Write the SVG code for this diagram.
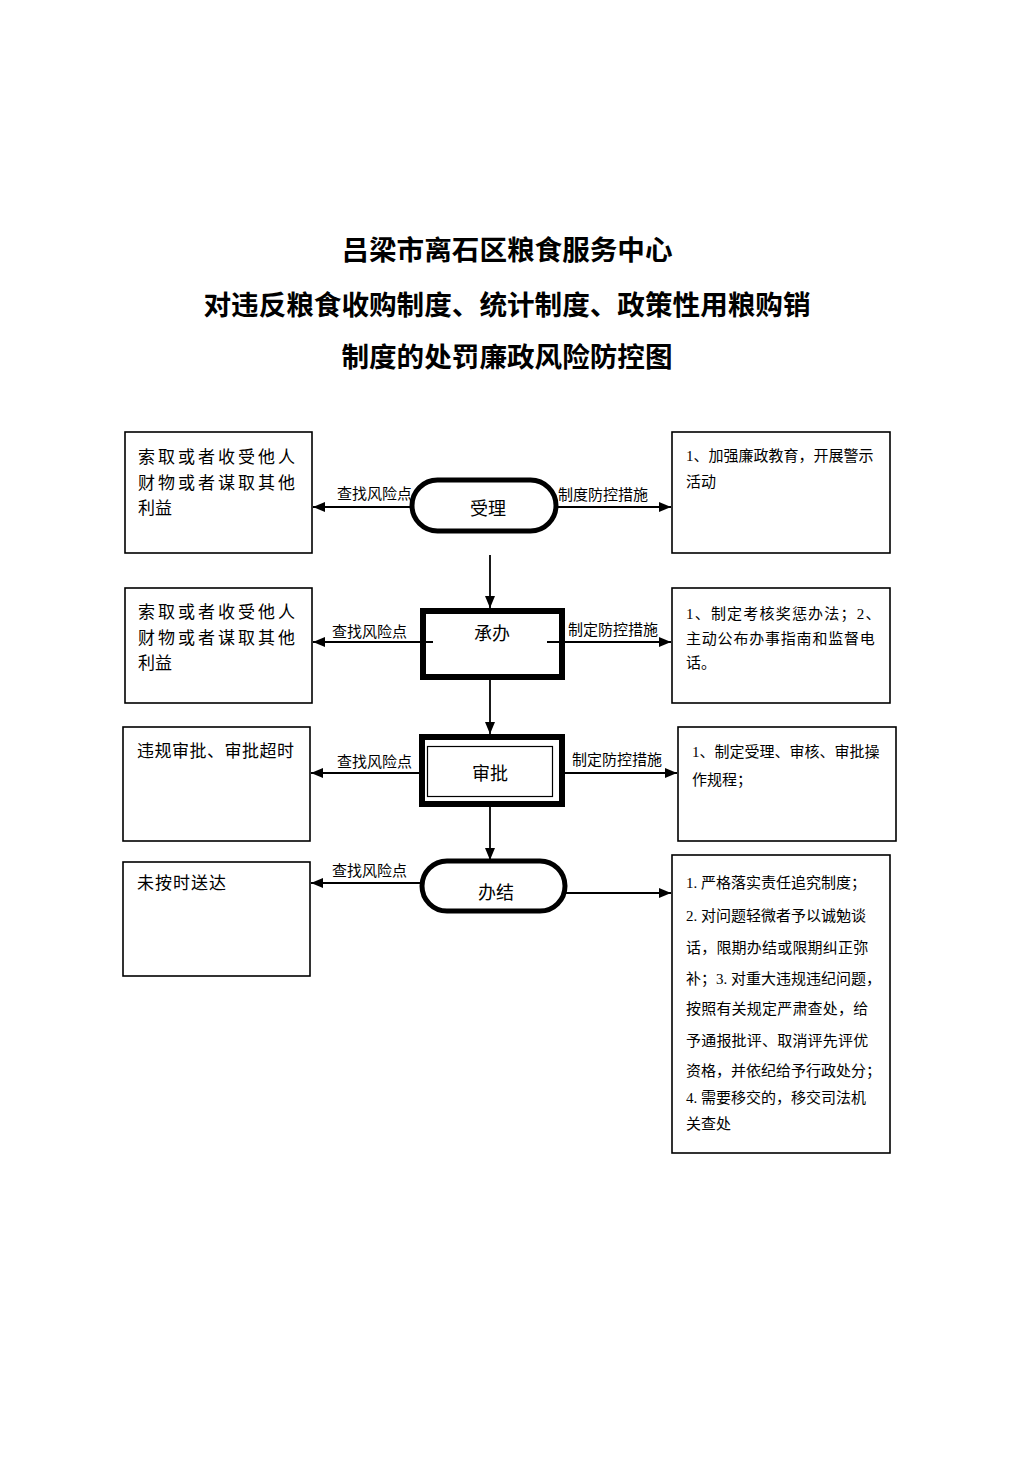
<svg xmlns="http://www.w3.org/2000/svg" width="1033" height="1461" viewBox="0 0 1033 1461">
<style>
.title{font-family:"Noto Sans CJK SC","Noto Sans",sans-serif;font-size:27.6px;font-weight:700;fill:#000;text-anchor:middle}
.box{fill:#fff;stroke:#000;stroke-width:1.6}
.t17{font-family:"Liberation Serif","Noto Sans CJK SC",serif;font-size:17px;fill:#000}
.t15{font-family:"Liberation Serif","Noto Sans CJK SC",serif;font-size:15px;fill:#000}
.lbl{font-family:"Liberation Serif","Noto Sans CJK SC",serif;font-size:15px;fill:#000}
.node{font-family:"Liberation Serif","Noto Sans CJK SC",serif;font-size:18px;fill:#000;text-anchor:middle}
.con{stroke:#000;stroke-width:1.8;fill:none}
</style>
<defs>
<marker id="ah" markerUnits="userSpaceOnUse" markerWidth="12" markerHeight="10" refX="12" refY="5" orient="auto">
<path d="M0,0 L12,5 L0,10 Z" fill="#000"/>
</marker>
</defs>
<rect width="1033" height="1461" fill="#fff"/>
<g id="title">
<text class="title" x="507" y="260">吕梁市离石区粮食服务中心</text>
<text class="title" x="507" y="315">对违反粮食收购制度、统计制度、政策性用粮购销</text>
<text class="title" x="507" y="367">制度的处罚廉政风险防控图</text>
</g>
<g id="connectors">
<line class="con" x1="412" y1="507" x2="313" y2="507" marker-end="url(#ah)"/>
<line class="con" x1="556" y1="507" x2="671" y2="507" marker-end="url(#ah)"/>
<line class="con" x1="490" y1="555" x2="490" y2="608" marker-end="url(#ah)"/>
<line class="con" x1="433" y1="642" x2="313" y2="642" marker-end="url(#ah)"/>
<line class="con" x1="547" y1="642" x2="671" y2="642" marker-end="url(#ah)"/>
<line class="con" x1="490" y1="680" x2="490" y2="734" marker-end="url(#ah)"/>
<line class="con" x1="419" y1="773" x2="311" y2="773" marker-end="url(#ah)"/>
<line class="con" x1="557" y1="773" x2="677" y2="773" marker-end="url(#ah)"/>
<line class="con" x1="490" y1="807" x2="490" y2="860" marker-end="url(#ah)"/>
<line class="con" x1="422" y1="883" x2="311" y2="883" marker-end="url(#ah)"/>
<line class="con" x1="565" y1="893" x2="671" y2="893" marker-end="url(#ah)"/>
<text class="lbl" x="337" y="499">查找风险点</text>
<text class="lbl" x="558" y="500">制度防控措施</text>
<text class="lbl" x="332" y="637">查找风险点</text>
<text class="lbl" x="568" y="635">制定防控措施</text>
<text class="lbl" x="337" y="767">查找风险点</text>
<text class="lbl" x="572" y="765">制定防控措施</text>
<text class="lbl" x="332" y="876">查找风险点</text>
</g>
<g id="risk1">
<rect class="box" x="125" y="432" width="187" height="121"/>
<text class="t17" x="138" y="463" letter-spacing="3">索取或者收受他人</text>
<text class="t17" x="138" y="489" letter-spacing="3">财物或者谋取其他</text>
<text class="t17" x="138" y="514">利益</text>
</g>
<g id="shouli">
<rect x="412" y="480" width="144" height="51" rx="25.5" fill="#fff" stroke="#000" stroke-width="5"/>
<text class="node" x="488" y="515">受理</text>
</g>
<g id="measure1">
<rect class="box" x="672" y="432" width="218" height="121"/>
<text class="t15" x="686" y="461">1、加强廉政教育，开展警示</text>
<text class="t15" x="686" y="487">活动</text>
</g>
<g id="risk2">
<rect class="box" x="125" y="588" width="187" height="115"/>
<text class="t17" x="138" y="618" letter-spacing="3">索取或者收受他人</text>
<text class="t17" x="138" y="644" letter-spacing="3">财物或者谋取其他</text>
<text class="t17" x="138" y="669">利益</text>
</g>
<g id="chengban">
<rect x="423" y="611" width="139" height="66" fill="none" stroke="#000" stroke-width="6"/>
<text class="node" x="492" y="640">承办</text>
</g>
<g id="measure2">
<rect class="box" x="672" y="588" width="218" height="115"/>
<text class="t15" x="686" y="619" letter-spacing="1.2">1、制定考核奖惩办法；2、</text>
<text class="t15" x="686" y="644" letter-spacing="0.8">主动公布办事指南和监督电</text>
<text class="t15" x="686" y="668">话。</text>
</g>
<g id="risk3">
<rect class="box" x="123" y="727" width="187" height="114"/>
<text class="t17" x="137" y="757" letter-spacing="0.5">违规审批、审批超时</text>
</g>
<g id="shenpi">
<rect x="422" y="737" width="140" height="67" fill="#fff" stroke="#000" stroke-width="6"/>
<rect x="427.5" y="746.5" width="125" height="50" fill="none" stroke="#000" stroke-width="1.2"/>
<text class="node" x="490" y="780">审批</text>
</g>
<g id="measure3">
<rect class="box" x="678" y="727" width="218" height="114"/>
<text class="t15" x="692" y="757">1、制定受理、审核、审批操</text>
<text class="t15" x="692" y="785">作规程；</text>
</g>
<g id="risk4">
<rect class="box" x="123" y="862" width="187" height="114"/>
<text class="t17" x="137" y="889" letter-spacing="1">未按时送达</text>
</g>
<g id="banjie">
<rect x="422" y="861" width="143" height="50" rx="25" fill="#fff" stroke="#000" stroke-width="5"/>
<text class="node" x="496" y="899">办结</text>
</g>
<g id="measure4">
<rect class="box" x="672" y="855" width="218" height="298"/>
<text class="t15" x="686" y="888">1. 严格落实责任追究制度；</text>
<text class="t15" x="686" y="921">2. 对问题轻微者予以诚勉谈</text>
<text class="t15" x="686" y="953" letter-spacing="0.2">话，限期办结或限期纠正弥</text>
<text class="t15" x="686" y="984">补；3. 对重大违规违纪问题，</text>
<text class="t15" x="686" y="1014" letter-spacing="0.2">按照有关规定严肃查处，给</text>
<text class="t15" x="686" y="1046" letter-spacing="0.2">予通报批评、取消评先评优</text>
<text class="t15" x="686" y="1076">资格，并依纪给予行政处分；</text>
<text class="t15" x="686" y="1103">4. 需要移交的，移交司法机</text>
<text class="t15" x="686" y="1129">关查处</text>
</g>
</svg>
